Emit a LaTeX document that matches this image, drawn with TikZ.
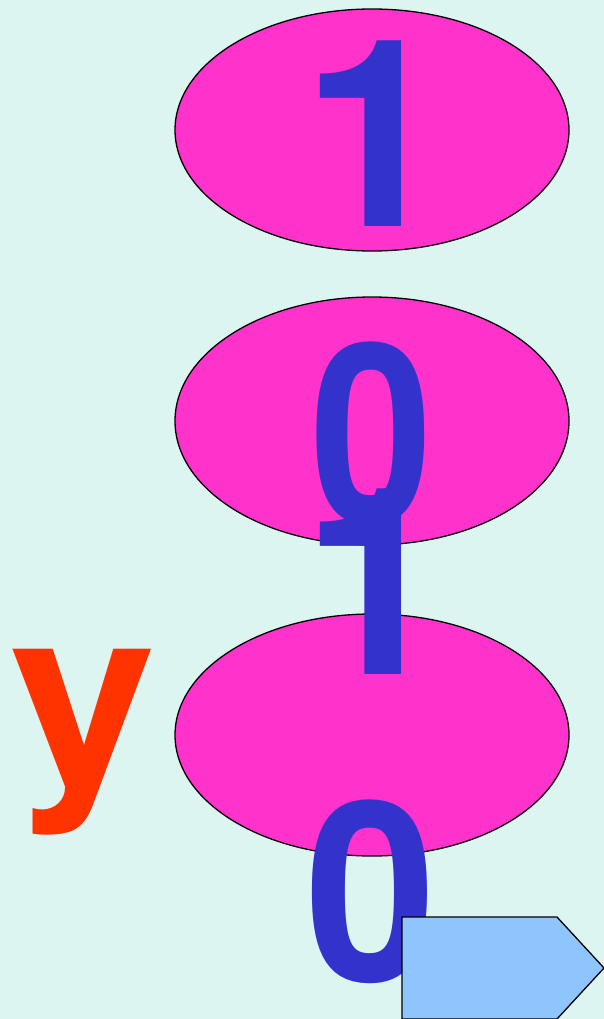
\documentclass[tikz,border=0pt]{standalone}
\usepackage{fontspec}
\setmainfont{TeX Gyre Heros}
\usetikzlibrary{shapes.geometric}

\definecolor{sheet}{HTML}{DDF5F1}
\definecolor{pink}{HTML}{FF33CC}
\definecolor{digitblue}{HTML}{3333CC}
\definecolor{letterred}{HTML}{FF3300}
\definecolor{tagblue}{HTML}{8FC5FD}

\begin{document}
\begin{tikzpicture}[x=1pt,y=-1pt,
  bubble/.style={ellipse,draw=black,line width=1.3pt,fill=pink,
    minimum width=394pt,minimum height=242pt,inner sep=0pt},
  digit/.style={anchor=base,inner sep=0pt,text=digitblue,
    font=\fontsize{262}{262}\selectfont\bfseries},
  nought/.style={anchor=base,inner sep=0pt,text=digitblue,
    font=\fontsize{251}{251}\selectfont\bfseries},
  letter/.style={anchor=base,inner sep=0pt,text=letterred,
    font=\fontsize{245}{245}\selectfont\bfseries}]
  \fill[sheet] (0,0) rectangle (604,1019);
  \useasboundingbox (0,0) rectangle (604,1019);

  % ellipses
  \node[bubble] (top) at (372,130) {};
  \node[bubble, minimum height=248pt] (mid) at (372,421) {};
  \node[bubble] (low) at (372,735) {};

  % digits
  \node[digit] (one) at (375,226) {1};
  \node[nought] (zero) at (372,523) {\scalebox{0.88}[1]{0}};
  \node[digit] (oneb) at (375,674) {1};
  \node[nought] (zerob) at (371,981) {\scalebox{0.94}[1]{0}};

  % letter
  \node[letter] (why) at (83,781) {\scalebox{1.07}[1]{y}};

  % arrow tag
  \draw[fill=tagblue,line width=1.3pt] (402,917) -- (557,917) -- (604,968)
    -- (557,1019) -- (402,1019) -- cycle;
\end{tikzpicture}
\end{document}
